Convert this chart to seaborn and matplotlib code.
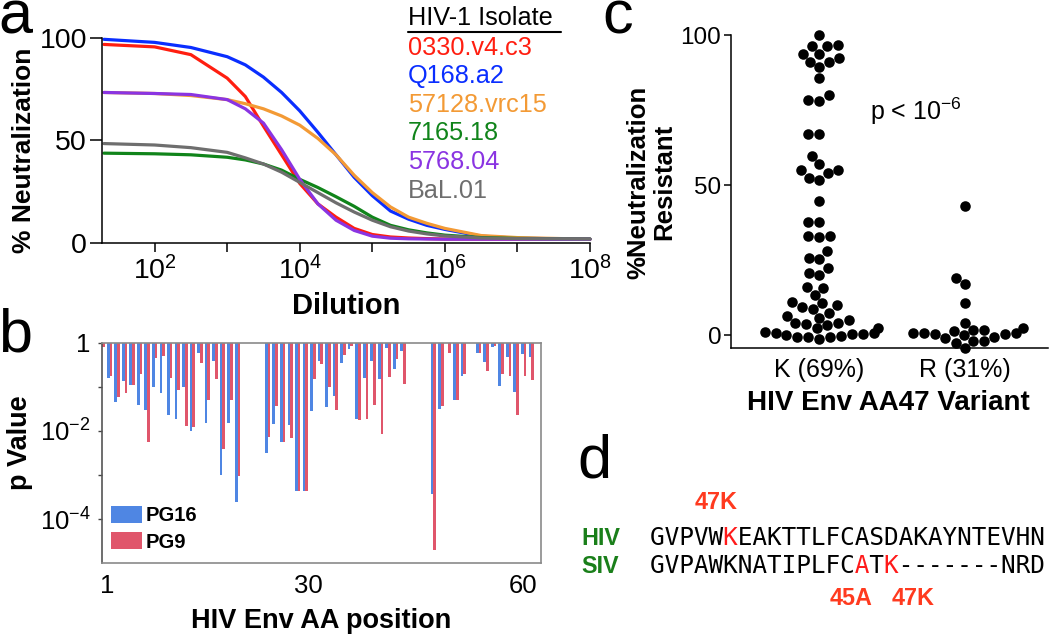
import matplotlib
matplotlib.use("Agg")
import matplotlib.pyplot as plt
from matplotlib.lines import Line2D
from matplotlib.ticker import NullLocator
import numpy as np
import pandas as pd
import seaborn as sns

W, H = 1050, 634

# ---------------- data: panel a ----------------
dilution = [20, 100, 316, 1000, 1778, 3162, 5623, 10000, 17783, 31623, 56234,
            100000, 177828, 316228, 562341, 1000000, 3162278, 10000000, 100000000]
isolates = ["0330.v4.c3", "Q168.a2", "57128.vrc15", "7165.18", "5768.04", "BaL.01"]
isolate_colors = ["#FF1E10", "#0A2EFF", "#F39A35", "#10841A", "#8A34E2", "#6E6E6E"]
neut_0330 = [97, 95.8, 92, 80.5, 71.5, 57, 43, 29, 19, 12.5, 7, 4, 2.8, 2.3, 2.0, 1.8, 1.7, 1.7, 1.7]
neut_q168 = [99.5, 98, 95.5, 91, 87, 81, 73.5, 64.5, 54, 43, 32, 23, 15.5, 11.5, 8.5, 6.5, 3.2, 2.2, 1.7]
neut_57128 = [73.5, 73, 72, 70, 68, 65.5, 62, 57.5, 51, 43, 33, 24.5, 17.5, 12.5, 9.5, 7, 3.5, 2.5, 1.7]
neut_7165 = [43.8, 43.5, 43, 41.8, 40.5, 38.5, 35.5, 31, 27, 22.5, 17.8, 12.5, 8.5, 6.3, 4.8, 3.7, 2.5, 2.1, 1.8]
neut_5768 = [73.5, 73, 72.5, 70, 65.5, 58.5, 45.5, 31, 19, 11, 6, 3.2, 2.2, 1.9, 1.8, 1.7, 1.7, 1.7, 1.7]
neut_bal = [48.5, 47.8, 46.5, 44.2, 41.5, 38.5, 34.5, 29.5, 24.5, 19.5, 15, 11, 7.8, 5.7, 4.3, 3.3, 2.3, 2.0, 1.8]
a_xticks = [1e2, 1e3, 1e4, 1e5, 1e6, 1e7, 1e8]
a_xticklabels = [r"$10^{2}$", "", r"$10^{4}$", "", r"$10^{6}$", "", r"$10^{8}$"]

# ---------------- data: panel b ----------------
aa_position = list(range(1, 20)) + list(range(23, 42)) + list(range(45, 50)) + list(range(51, 59))
pg16_log10p = [-0.08, -0.79, -1.34, -0.86, -0.96, -1.42, -1.53, -1.00, -1.15, -1.63, -1.72, -1.01, -2.01,
               -0.24, -1.81, -0.42, -2.99, -1.83, -3.62,
               -2.49, -1.85, -2.26, -1.87, -3.36, -3.35, -1.55, -0.41, -1.45, -1.20, -0.45, -0.14, -1.72,
               -0.80, -0.41, -0.83, -0.13, -0.60, -0.19,
               -3.42, -1.51, 0.0, -1.30, -0.75,
               -0.24, -0.43, -0.09, -0.98, -0.32, -1.11, -0.26, -0.33]
pg9_log10p = [-0.10, -0.76, -1.24, -1.15, -0.95, -0.70, -2.26, -0.35, -0.30, -0.81, -1.07, -1.88, -1.91,
              -0.45, -1.29, -0.83, -2.42, -1.30, -3.02,
              -2.14, -1.44, -2.24, -2.17, -3.36, -3.35, -0.83, -0.48, -1.00, -1.53, -0.28, -0.07, -1.76,
              -1.72, -1.42, -2.08, -0.77, -0.38, -0.94,
              -4.69, -1.44, -0.24, -1.30, -0.70,
              -0.24, -0.64, -0.07, -0.70, -0.76, -1.63, -0.75, -0.85]
b_tick_pos = [1.7, 28.4, 56.9]
b_tick_labels = ["1", "30", "60"]
b_yticks = [1, 1e-1, 1e-2, 1e-3, 1e-4]
b_yticklabels = ["1", "", r"$10^{-2}$", "", r"$10^{-4}$"]
antibodies = ["PG16", "PG9"]
antibody_colors = ["#4F86E3", "#E0566B"]

# ---------------- data: panel c ----------------
variant_labels = ["K (69%)", "R (31%)"]
k_values = [100, 96.3, 96.7, 96.3, 93.7, 93.7, 92.2, 91.1, 90.9, 89.2, 85.6, 80, 78, 78.3,
            66.9, 66.9, 59.7, 57, 54.1, 55, 55, 51.7, 52.4, 44.7, 37.8, 37.6, 33, 33, 32.6,
            28, 25.8, 25.3, 22.2, 20.6, 20, 15.6, 15.9, 13.3, 10.6, 11.1, 9.4, 10, 7.4, 8.6,
            6.3, 5, 5.8, 3.9, 3.6, 3.9, 2.2, 3.3, 2.2,
            -0.8, 0, 0.8, 1.1, 0.5, -0.3, -1.2, -0.5, 0.3, 0.6, -0.8]
r_values = [43, 19.1, 16.9, 10.6, 3.9, 0.6, 0.6, 1.7, 1.7, 2.2, 1.3, 0.6, 0.2,
            -1.9, -1.1, 0, 0.3, -0.6, -1.9, -2.6, -4.4]

# ---------------- data: panel d ----------------
hiv_seq = "GVPVWKEAKTTLFCASDAKAYNTEVHN"
siv_seq = "GVPAWKNATIPLFCATK-------NRD"
hiv_red = [5]
siv_red = [14, 16]

# ---------------- style ----------------
sns.set_theme(style="ticks", rc={"text.color": "black", "axes.labelcolor": "black",
                                 "xtick.color": "black", "ytick.color": "black",
                                 "axes.edgecolor": "black"})
plt.rcParams["font.family"] = ["Liberation Sans", "DejaVu Sans"]
plt.rcParams["mathtext.fontset"] = "custom"
plt.rcParams["mathtext.rm"] = "Liberation Sans"
plt.rcParams["mathtext.it"] = "Liberation Sans:italic"
plt.rcParams["mathtext.bf"] = "Liberation Sans:bold"

fig = plt.figure(figsize=(10.5, 6.34), dpi=100)


def rect(l, t, r, b):
    return [l / W, 1 - b / H, (r - l) / W, (b - t) / H]


def fx(x):
    return x / W


def fy(y):
    return 1 - y / H


LAB = 19.5
LETTER = 44

# ---------------- panel a ----------------
axa = fig.add_axes(rect(102.3, 38.3, 590, 242.7))
axa.set_xscale("log")
series_a = [neut_0330, neut_q168, neut_57128, neut_7165, neut_5768, neut_bal]
rows = []
for name, vals in zip(isolates, series_a):
    for d, v in zip(dilution, vals):
        rows.append((name, d, v))
df_a = pd.DataFrame(rows, columns=["isolate", "dilution", "neut"])
sns.lineplot(data=df_a, x="dilution", y="neut", hue="isolate", hue_order=isolates,
             palette=isolate_colors, linewidth=2.3, legend=False, estimator=None,
             sort=False, ax=axa)
for ln in axa.lines:
    ln.set_clip_on(False)
axa.set_xlim(19, 1e8)
axa.set_ylim(0, 100)
axa.set_xticks(a_xticks)
axa.set_xticklabels(a_xticklabels)
axa.xaxis.set_minor_locator(NullLocator())
axa.set_yticks([0, 50, 100])
axa.tick_params(axis="x", length=6.5, width=1.1, pad=3.5, labelsize=20.5)
axa.tick_params(axis="y", length=8.6, width=1.1, pad=2.5, labelsize=20.5)
for s in ["top", "right"]:
    axa.spines[s].set_visible(False)
for s in ["left", "bottom"]:
    axa.spines[s].set_linewidth(1.1)
axa.set_xlabel("")
axa.set_ylabel("")
fig.text(fx(346), fy(314), "Dilution", ha="center", va="baseline", fontsize=LAB + 1.5, fontweight="bold")
fig.text(fx(24), fy(150), "% Neutralization", ha="center", va="center", rotation=90,
         fontsize=19, fontweight="bold")
fig.text(fx(-2), fy(33), "a", ha="left", va="baseline", fontsize=LETTER)

# legend as coloured text
fig.text(fx(408), fy(25), "HIV-1 Isolate", ha="left", va="baseline", fontsize=18.2)
fig.add_artist(Line2D([fx(408), fx(561)], [fy(32.3), fy(32.3)], color="black", lw=1.5))
for i, (name, col) in enumerate(zip(isolates, isolate_colors)):
    fig.text(fx(408), fy(55 + 28.5 * i), name, ha="left", va="baseline", fontsize=18.2, color=col)

# ---------------- panel b ----------------
axb = fig.add_axes(rect(101.7, 342.7, 540.7, 563.3))
axb.set_yscale("log")
pos = np.array(aa_position, dtype=float)
p16 = 10.0 ** np.array(pg16_log10p)
p9 = 10.0 ** np.array(pg9_log10p)
axb.bar(pos - 0.18, p16 - 1, bottom=1, width=0.36, color=antibody_colors[0], linewidth=0, label=antibodies[0])
axb.bar(pos + 0.18, p9 - 1, bottom=1, width=0.36, color=antibody_colors[1], linewidth=0, label=antibodies[1])
axb.set_ylim(1e-5, 1)
axb.set_xlim(0.96, 59.26)
axb.set_yticks(b_yticks)
axb.set_yticklabels(b_yticklabels)
axb.yaxis.set_minor_locator(NullLocator())
axb.set_xticks(b_tick_pos)
axb.set_xticklabels(b_tick_labels)
axb.tick_params(axis="x", length=0, pad=8, labelsize=18.5)
axb.tick_params(axis="y", length=3, width=1.0, pad=5, labelsize=18.5, color="#444444")
for s in axb.spines.values():
    s.set_color("#8a8a8a")
    s.set_linewidth(1.2)
axb.spines["left"].set_color("#555555")
axb.set_xlabel("")
axb.set_ylabel("")
axb.legend(loc="lower left", bbox_to_anchor=(0.021, 0.053), frameon=False, handlelength=1.55,
           handleheight=0.88, handletextpad=0.15, labelspacing=0.35, borderpad=0, borderaxespad=0,
           prop=dict(weight="bold", size=14.5))
fig.text(fx(321), fy(628), "HIV Env AA position", ha="center", va="baseline", fontsize=LAB, fontweight="bold")
fig.text(fx(20), fy(443), "p Value", ha="center", va="center", rotation=90, fontsize=LAB, fontweight="bold")
fig.text(fx(-2), fy(352), "b", ha="left", va="baseline", fontsize=LETTER)

# ---------------- panel c ----------------
axc = fig.add_axes(rect(730.7, 35, 1048, 348.3))
df_c = pd.DataFrame({"variant": [variant_labels[0]] * len(k_values) + [variant_labels[1]] * len(r_values),
                     "value": k_values + r_values})
sns.swarmplot(data=df_c, x="variant", y="value", order=variant_labels, color="black", size=7.6,
              ax=axc, warn_thresh=1)
for c in axc.collections:
    c.set_clip_on(False)
axc.set_xlim(-0.61, 1.57)
axc.set_ylim(-4.43, 100)
axc.set_yticks([0, 50, 100])
axc.tick_params(axis="y", length=5.3, width=1.1, pad=1.5, labelsize=17.5)
axc.tick_params(axis="x", length=0, pad=7, labelsize=18)
for s in ["top", "right"]:
    axc.spines[s].set_visible(False)
for s in ["left", "bottom"]:
    axc.spines[s].set_linewidth(1.1)
axc.set_xlabel("")
axc.set_ylabel("")
fig.text(fx(888), fy(410), "HIV Env AA47 Variant", ha="center", va="baseline", fontsize=LAB + 0.5,
         fontweight="bold")
fig.text(fx(651), fy(182), "%Neutralization\nResistant", ha="center", va="center", rotation=90,
         fontsize=18.5, fontweight="bold", linespacing=1.1)
fig.text(fx(870), fy(120), r"p < 10$^{-6}$", ha="left", va="baseline", fontsize=18)
fig.text(fx(602), fy(33), "c", ha="left", va="baseline", fontsize=LETTER)

# ---------------- panel d ----------------
fig.text(fx(577), fy(477), "d", ha="left", va="baseline", fontsize=LETTER)
MONO = dict(family="DejaVu Sans Mono", fontsize=17.6, va="baseline", ha="left")


def split_colored(seq, red_idx):
    black = "".join(" " if i in red_idx else ch for i, ch in enumerate(seq))
    red = "".join(ch if i in red_idx else " " for i, ch in enumerate(seq))
    return black, red


for seq, reds, base in [(hiv_seq, hiv_red, 545), (siv_seq, siv_red, 573.3)]:
    blk, rd = split_colored(seq, reds)
    fig.text(fx(650), fy(base), blk, color="black", **MONO)
    fig.text(fx(650), fy(base), rd, color="#FF1A1A", **MONO)

fig.text(fx(581), fy(545), "HIV", ha="left", va="baseline", fontsize=16.8, fontweight="bold", color="#1A7F1A")
fig.text(fx(581), fy(573.3), "SIV", ha="left", va="baseline", fontsize=16.8, fontweight="bold", color="#1A7F1A")
fig.text(fx(695), fy(509.3), "47K", ha="left", va="baseline", fontsize=16.8, fontweight="bold", color="#FF3A1F")
fig.text(fx(830), fy(605), "45A", ha="left", va="baseline", fontsize=16.8, fontweight="bold", color="#FF3A1F")
fig.text(fx(891.7), fy(605), "47K", ha="left", va="baseline", fontsize=16.8, fontweight="bold", color="#FF3A1F")

fig.savefig("out.png", dpi=100)
